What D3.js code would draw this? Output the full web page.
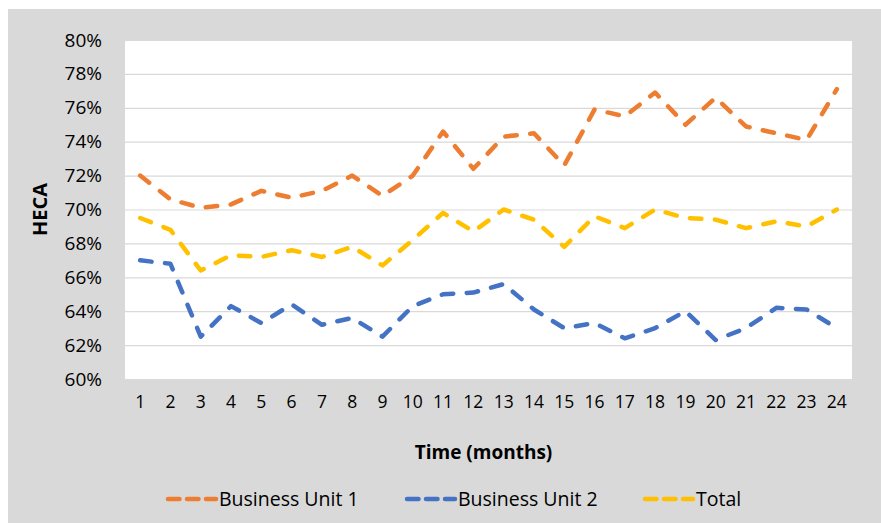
<!DOCTYPE html>
<html>
<head>
<meta charset="utf-8">
<script src="https://cdn.jsdelivr.net/npm/d3@7"></script>
<style>
  body { margin: 0; background: #fff; }
  svg { display: block; font-family: "Open Sans", sans-serif; }
</style>
</head>
<body>
<svg id="chart"></svg>
<script>
const [w, h] = [881, 523];
const plot = {left: 125, right: 852, top: 40, bottom: 379};

// data
const months = d3.range(1, 25);
const unit1 = [72.0, 70.6, 70.1, 70.3, 71.1, 70.7, 71.1, 72.0, 70.8, 72.0, 74.6, 72.4,
               74.3, 74.5, 72.6, 75.9, 75.5, 76.9, 75.0, 76.6, 74.9, 74.5, 74.1, 77.1];
const unit2 = [67.0, 66.8, 62.5, 64.3, 63.3, 64.4, 63.2, 63.6, 62.5, 64.3, 65.0, 65.1,
               65.6, 64.1, 63.0, 63.3, 62.4, 63.0, 64.0, 62.3, 63.0, 64.2, 64.1, 63.0];
const total = [69.5, 68.8, 66.4, 67.3, 67.2, 67.6, 67.2, 67.8, 66.7, 68.2, 69.8, 68.7,
               70.0, 69.4, 67.8, 69.6, 68.9, 70.0, 69.5, 69.4, 68.9, 69.3, 69.0, 70.0];
const yTicks = d3.range(60, 81, 2);

const series = [
    {name: 'Business Unit 1', values: unit1, color: '#ED7D31'},
    {name: 'Business Unit 2', values: unit2, color: '#4472C4'},
    {name: 'Total', values: total, color: '#FFC000'}
];

const svg = d3.select('#chart')
    .attr('width', w)
    .attr('height', h);

// grey chart area
svg.append('rect')
    .attr('x', 8).attr('y', 9)
    .attr('width', w - 8).attr('height', h - 9)
    .attr('fill', '#D9D9D9');

svg.append('rect')
    .attr('x', plot.left).attr('y', plot.top)
    .attr('width', plot.right - plot.left).attr('height', plot.bottom - plot.top)
    .attr('fill', '#fff');

const xScale = d3.scaleBand()
    .domain(months)
    .range([plot.left, plot.right]);

const yScale = d3.scaleLinear()
    .domain([60, 80])
    .range([plot.bottom, plot.top]);

// gridlines
svg.append('g')
    .attr('transform', `translate(${plot.left}, 0)`)
    .call(d3.axisLeft(yScale).tickValues(yTicks).tickSize(-(plot.right - plot.left)).tickFormat(''))
    .call(g => g.select('.domain').remove())
    .call(g => g.selectAll('line').attr('stroke', '#D9D9D9').attr('stroke-width', 1.2));

// y axis labels
svg.append('g')
    .attr('transform', `translate(${plot.left}, 0)`)
    .call(d3.axisLeft(yScale).tickValues(yTicks).tickSize(0).tickPadding(23).tickFormat(d => d + '%'))
    .call(g => g.select('.domain').remove())
    .call(g => g.selectAll('text')
        .style('font-family', '"Open Sans", sans-serif')
        .style('font-size', '19px')
        .attr('fill', '#000'));

// x axis labels
svg.append('g')
    .attr('transform', `translate(0, ${plot.bottom})`)
    .call(d3.axisBottom(xScale).tickSize(0).tickPadding(17))
    .call(g => g.select('.domain').remove())
    .call(g => g.selectAll('text')
        .style('font-family', '"Open Sans", sans-serif')
        .style('font-size', '17.5px')
        .attr('fill', '#000'));

const line = d3.line()
    .x((d, i) => xScale(months[i]) + xScale.bandwidth() / 2)
    .y(d => yScale(d));

svg.selectAll('path.series')
    .data(series)
    .enter()
    .append('path')
        .attr('class', 'series')
        .attr('d', d => line(d.values))
        .attr('fill', 'none')
        .attr('stroke', d => d.color)
        .attr('stroke-width', 4.5)
        .attr('stroke-dasharray', '11.5,13.5')
        .attr('stroke-linecap', 'round')
        .attr('stroke-linejoin', 'round');

// axis titles
svg.append('text')
    .attr('x', (plot.left + plot.right) / 2 - 5)
    .attr('y', 459)
    .text('Time (months)')
    .style('text-anchor', 'middle')
    .style('font-weight', 'bold')
    .style('font-size', '19px');

svg.append('text')
    .attr('transform', `translate(47, ${(plot.top + plot.bottom) / 2}) rotate(-90)`)
    .text('HECA')
    .style('text-anchor', 'middle')
    .style('font-weight', 'bold')
    .style('font-size', '20px');

// legend
const legendX = [166, 405, 643];
const legend = svg.selectAll('g.legend')
    .data(series)
    .enter()
    .append('g')
        .attr('class', 'legend')
        .attr('transform', (d, i) => `translate(${legendX[i]}, 499)`);

legend.append('line')
    .attr('x1', 2).attr('x2', 50)
    .attr('stroke', d => d.color)
    .attr('stroke-width', 4.5)
    .attr('stroke-dasharray', '11.5,7.5')
    .attr('stroke-linecap', 'round');

legend.append('text')
    .attr('x', 53)
    .attr('y', 6.5)
    .text(d => d.name)
    .style('font-size', '19.5px');
</script>
</body>
</html>
